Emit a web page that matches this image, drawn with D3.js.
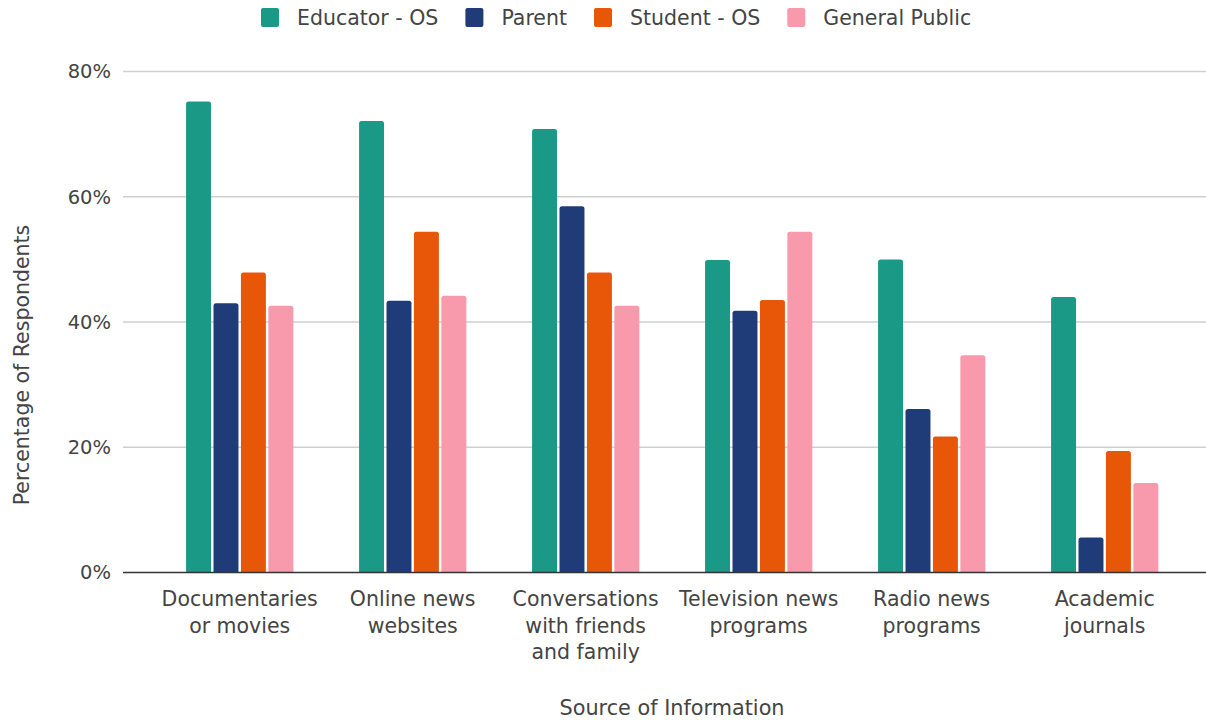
<!DOCTYPE html>
<html>
<head>
<meta charset="utf-8">
<script src="https://cdn.jsdelivr.net/npm/d3@7"></script>
<style>
  html, body { margin: 0; padding: 0; background: #fff; }
  svg { display: block; font-family: "DejaVu Sans", Verdana, sans-serif; }
</style>
</head>
<body>
<svg id="chart" width="1206" height="720"></svg>
<script>
// Sources of information and how each respondent group rated them (% of respondents)
const categories = [
  "Documentaries or movies",
  "Online news websites",
  "Conversations with friends and family",
  "Television news programs",
  "Radio news programs",
  "Academic journals"
];
const categoryLines = [
  ["Documentaries", "or movies"],
  ["Online news", "websites"],
  ["Conversations", "with friends", "and family"],
  ["Television news", "programs"],
  ["Radio news", "programs"],
  ["Academic", "journals"]
];
const seriesNames = ["Educator - OS", "Parent", "Student - OS", "General Public"];
const educatorOS   = [75.2, 72.1, 70.8, 49.9, 50.0, 44.0];
const parent       = [43.0, 43.4, 58.5, 41.8, 26.1, 5.6];
const studentOS    = [47.9, 54.4, 47.9, 43.5, 21.7, 19.4];
const generalPublic = [42.6, 44.2, 42.6, 54.4, 34.7, 14.3];
const seriesValues = [educatorOS, parent, studentOS, generalPublic];
const colors = ["#1a9986", "#203c78", "#e85608", "#f899ac"];
const yTicks = [0, 20, 40, 60, 80];

const svg = d3.select("#chart");
const textColor = "#444";

const plot = { left: 123, right: 1206, top: 71.5, bottom: 572.5 };

const x0 = d3.scaleBand()
  .domain(categories)
  .range([153.2, 1191.2])
  .paddingInner(0.38)
  .paddingOuter(0.19);

const x1 = d3.scaleBand()
  .domain(seriesNames)
  .range([0, x0.bandwidth()])
  .paddingInner(0.09);

const y = d3.scaleLinear().domain([0, 80]).range([plot.bottom, plot.top]);

// Horizontal gridlines
svg.append("g")
  .selectAll("line")
  .data(yTicks.filter(t => t > 0))
  .join("line")
  .attr("x1", plot.left).attr("x2", plot.right)
  .attr("y1", d => y(d)).attr("y2", d => y(d))
  .attr("stroke", "#cfcfcf").attr("stroke-width", 1.3);

// Y axis tick labels
const yAxis = d3.axisLeft(y).tickValues(yTicks).tickFormat(d => d + "%").tickSize(0).tickPadding(12);
const yg = svg.append("g").attr("transform", `translate(${plot.left},0)`).call(yAxis);
yg.select(".domain").remove();
yg.selectAll("text")
  .attr("font-size", 19.5)
  .attr("font-family", "DejaVu Sans, Verdana, sans-serif")
  .attr("fill", textColor);

// Bars with slightly rounded top corners
function topRounded(xp, yp, w, h, r) {
  r = Math.min(r, h, w / 2);
  return `M${xp},${yp + h}V${yp + r}Q${xp},${yp} ${xp + r},${yp}H${xp + w - r}Q${xp + w},${yp} ${xp + w},${yp + r}V${yp + h}Z`;
}

const rows = [];
categories.forEach((c, i) => {
  seriesNames.forEach((s, j) => rows.push({ cat: c, series: s, value: seriesValues[j][i], color: colors[j] }));
});

svg.append("g")
  .selectAll("path")
  .data(rows)
  .join("path")
  .attr("d", d => {
    const bx = x0(d.cat) + x1(d.series);
    const by = y(d.value);
    return topRounded(bx, by, x1.bandwidth(), y(0) - by, 2.5);
  })
  .attr("fill", d => d.color);

// Baseline
svg.append("line")
  .attr("x1", plot.left).attr("x2", plot.right)
  .attr("y1", y(0)).attr("y2", y(0))
  .attr("stroke", "#333").attr("stroke-width", 1.3);

// Category labels (wrapped)
const xg = svg.append("g");
categories.forEach((c, i) => {
  const cx = x0(c) + x0.bandwidth() / 2;
  const t = xg.append("text")
    .attr("x", cx)
    .attr("y", 606)
    .attr("text-anchor", "middle")
    .attr("font-size", 20.5)
    .attr("fill", textColor);
  categoryLines[i].forEach((line, k) => {
    t.append("tspan").attr("x", cx).attr("dy", k === 0 ? 0 : 26.5).text(line);
  });
});

// Axis titles
svg.append("text")
  .attr("x", 672).attr("y", 715)
  .attr("text-anchor", "middle")
  .attr("font-size", 20.8)
  .attr("fill", textColor)
  .text("Source of Information");

svg.append("text")
  .attr("transform", "translate(29,365) rotate(-90)")
  .attr("text-anchor", "middle")
  .attr("font-size", 20.5)
  .attr("fill", textColor)
  .text("Percentage of Respondents");

// Legend
const legend = svg.append("g");
let lx = 261;
seriesNames.forEach((s, j) => {
  legend.append("rect")
    .attr("x", lx).attr("y", 8).attr("width", 18).attr("height", 19)
    .attr("rx", 2).attr("fill", colors[j]);
  const t = legend.append("text")
    .attr("x", lx + 36).attr("y", 25)
    .attr("font-size", 20.5)
    .attr("fill", textColor)
    .text(s);
  lx += 36 + t.node().getComputedTextLength() + 27;
});
</script>
</body>
</html>
